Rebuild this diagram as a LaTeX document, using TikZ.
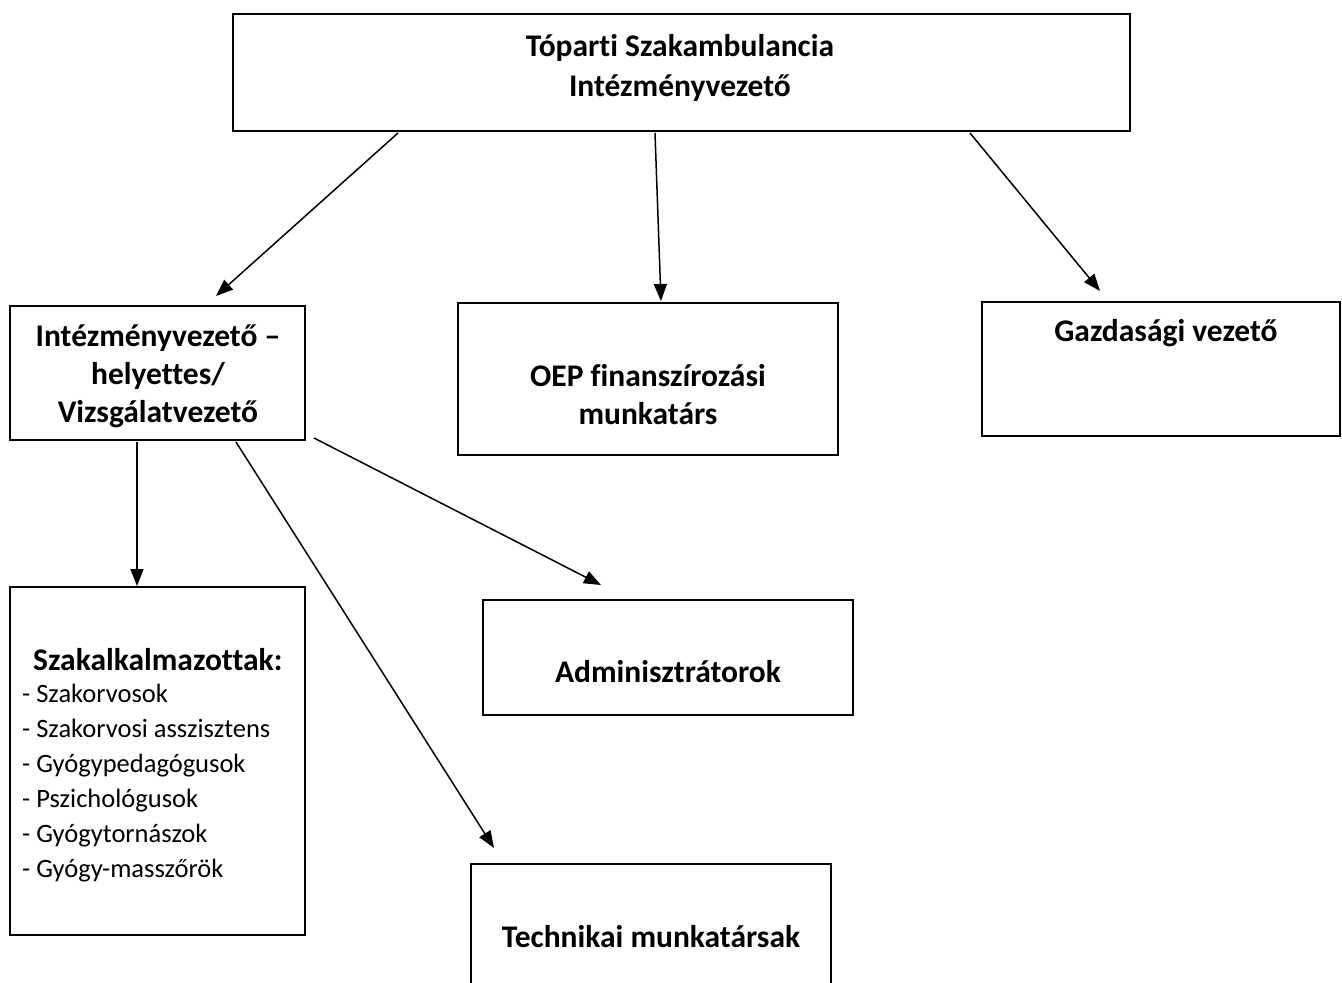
\documentclass[tikz,border=0pt]{standalone}
\usepackage{fontspec}
\setmainfont{Carlito}[Ligatures=NoCommon]
\usetikzlibrary{arrows.meta}
\begin{document}
\begin{tikzpicture}[x=1pt,y=-1pt,
  box/.style={draw,line width=1.6pt,inner sep=0pt,outer sep=0pt},
  btxt/.style={font=\fontsize{31.5}{38}\selectfont\bfseries,align=center,inner sep=0pt},
  itxt/.style={font=\fontsize{26.5}{35}\selectfont,align=left,inner sep=0pt,anchor=west},
  arr/.style={line width=1.5pt,-{Triangle[length=17pt,width=13pt]}}]
\useasboundingbox (0,0) rectangle (1342,983);
\clip (0,0) rectangle (1342,983);
% boxes
\node[box,minimum width=897pt,minimum height=117pt] (top) at (681.5,72.5) {};
\node[box,minimum width=295pt,minimum height=134pt] (lm) at (157.5,373) {};
\node[box,minimum width=380pt,minimum height=152pt] (oep) at (648,379) {};
\node[box,minimum width=358pt,minimum height=134pt] (gz) at (1161,369) {};
\node[box,minimum width=295pt,minimum height=348pt] (sz) at (157.5,761) {};
\node[box,minimum width=370pt,minimum height=115pt] (adm) at (668,657.5) {};
\node[box,minimum width=360pt,minimum height=160pt] (tech) at (651,944) {};
% texts
\node[btxt,font=\fontsize{31.5}{40}\selectfont\bfseries] (ttop) at (680,68) {Tóparti Szakambulancia\\Intézményvezető};
\node[btxt] (tlm) at (158,376) {Intézményvezető –\\helyettes/\\Vizsgálatvezető};
\node[btxt] (toep) at (648,395) {OEP finanszírozási\\munkatárs};
\node[btxt] (tgz) at (1166,333) {Gazdasági vezető};
\node[btxt,anchor=west] (tsz) at (33,660) {Szakalkalmazottak:};
\node[itxt] (tszl) at (22,783) {- Szakorvosok\\- Szakorvosi asszisztens\\- Gyógypedagógusok\\- Pszichológusok\\- Gyógytornászok\\- Gyógy-masszőrök};
\node[btxt] (tadm) at (668,672) {Adminisztrátorok};
\node[btxt] (ttech) at (651,937) {Technikai munkatársak};
% connectors
\draw[arr] ([xshift=-283.5pt,yshift=-2pt]top.south) -- ([xshift=58.5pt,yshift=10pt]lm.north);
\draw[arr] ([xshift=-26.5pt,yshift=-2pt]top.south) -- ([xshift=13pt,yshift=2pt]oep.north);
\draw[arr] ([xshift=288.5pt,yshift=-2pt]top.south) -- ([xshift=-61pt,yshift=11pt]gz.north);
\draw[arr] ([xshift=-20.5pt,yshift=-2pt]lm.south) -- ([xshift=-20.5pt,yshift=1pt]sz.north);
\draw[arr] ([xshift=78.5pt,yshift=-2pt]lm.south) -- ([xshift=-157pt,yshift=16pt]tech.north);
\draw[arr] ([xshift=9pt,yshift=2pt]lm.south east) -- ([xshift=-67pt,yshift=15pt]adm.north);
\end{tikzpicture}
\end{document}
